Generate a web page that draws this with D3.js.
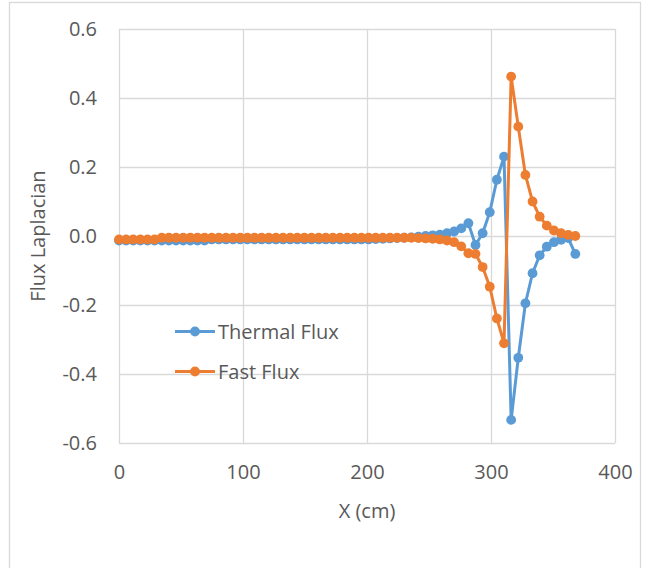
<!DOCTYPE html>
<html>
<head>
<meta charset="utf-8">
<script src="https://cdn.jsdelivr.net/npm/d3@7"></script>
<style>
  html, body { margin: 0; padding: 0; background: #fff; }
  svg { display: block; }
  text { font-family: "Open Sans", "Liberation Sans", sans-serif; fill: #595959; }
</style>
</head>
<body>
<svg id="chart" width="647" height="568"></svg>
<script>
const xValues = [0,5.75,11.5,17.25,23,28.75,34.5,40.25,46,51.75,57.5,63.25,69,74.75,80.5,86.25,92,97.75,103.5,109.25,115,120.75,126.5,132.25,138,143.75,149.5,155.25,161,166.75,172.5,178.25,184,189.75,195.5,201.25,207,212.75,218.5,224.25,230,235.75,241.5,247.25,253,258.75,264.5,270.25,276,281.75,287.5,293.25,299,304.75,310.5,316.25,322,327.75,333.5,339.25,345,350.75,356.5,362.25,368];

const thermalFlux = [-0.013,-0.013,-0.013,-0.013,-0.013,-0.013,-0.013,-0.013,-0.013,-0.013,-0.013,-0.013,-0.013,
  -0.010,-0.010,-0.010,-0.010,-0.010,-0.010,-0.010,-0.010,-0.010,-0.010,-0.010,-0.010,-0.010,-0.010,-0.010,-0.010,-0.010,-0.010,-0.010,-0.010,-0.010,-0.010,-0.010,
  -0.009,-0.008,-0.007,-0.006,-0.005,-0.004,-0.002,0.000,0.002,0.004,0.008,0.013,0.022,0.037,-0.026,0.008,0.069,0.163,0.230,
  -0.533,-0.353,-0.195,-0.108,-0.056,-0.031,-0.018,-0.011,-0.006,-0.052];

const fastFlux = [-0.010,-0.010,-0.010,-0.010,-0.010,-0.010,
  -0.005,-0.005,-0.005,-0.005,-0.005,-0.005,-0.005,-0.005,-0.005,-0.005,-0.005,-0.005,-0.005,-0.005,-0.005,-0.005,-0.005,-0.005,-0.005,-0.005,-0.005,-0.005,-0.005,-0.005,-0.005,-0.005,-0.005,-0.005,-0.005,-0.005,-0.005,-0.005,-0.005,-0.005,-0.005,-0.005,
  -0.006,-0.007,-0.008,-0.010,-0.013,-0.018,-0.030,-0.050,-0.052,-0.090,-0.147,-0.239,-0.311,
  0.462,0.317,0.177,0.100,0.056,0.030,0.016,0.008,0.003,0.000];

const seriesNames = ["Thermal Flux", "Fast Flux"];
const seriesColors = ["#5B9BD5", "#ED7D31"];
const xTicks = [0, 100, 200, 300, 400];
const yTicks = [-0.6, -0.4, -0.2, 0.0, 0.2, 0.4, 0.6];
const yTickLabels = ["-0.6", "-0.4", "-0.2", "0.0", "0.2", "0.4", "0.6"];

const svg = d3.select("#chart");

// chart area border
svg.append("rect")
  .attr("x", 9.5).attr("y", 2.5)
  .attr("width", 631).attr("height", 620)
  .attr("fill", "none").attr("stroke", "#d9d9d9").attr("stroke-width", 1.3);

const plot = { left: 119, right: 615, top: 29, bottom: 443 };

const x = d3.scaleLinear().domain([0, 400]).range([plot.left, plot.right]);
const y = d3.scaleLinear().domain([-0.6, 0.6]).range([plot.bottom, plot.top]);

// gridlines
const grid = svg.append("g");
grid.selectAll("line.h").data(yTicks).enter().append("line")
  .attr("x1", plot.left).attr("x2", plot.right)
  .attr("y1", d => Math.round(y(d)) + 0.5).attr("y2", d => Math.round(y(d)) + 0.5)
  .attr("stroke", "#d9d9d9").attr("stroke-width", 1.3);
grid.selectAll("line.v").data(xTicks).enter().append("line")
  .attr("y1", plot.top).attr("y2", plot.bottom)
  .attr("x1", d => Math.round(x(d)) + 0.5).attr("x2", d => Math.round(x(d)) + 0.5)
  .attr("stroke", "#d9d9d9").attr("stroke-width", 1.3);

// axes (labels only)
const yAxis = d3.axisLeft(y).tickValues(yTicks)
  .tickFormat((d, i) => yTickLabels[i]).tickSize(0).tickPadding(22);
const gy = svg.append("g").attr("transform", `translate(${plot.left},0)`).call(yAxis);
gy.select(".domain").remove();
gy.selectAll("text").attr("font-size", 20).style("font-family", '"Open Sans", sans-serif').attr("fill", "#595959");

const xAxis = d3.axisBottom(x).tickValues(xTicks).tickFormat(d3.format("d")).tickSize(0).tickPadding(22);
const gx = svg.append("g").attr("transform", `translate(0,${plot.bottom})`).call(xAxis);
gx.select(".domain").remove();
gx.selectAll("text").attr("font-size", 20).style("font-family", '"Open Sans", sans-serif').attr("fill", "#595959");

// axis titles
svg.append("text")
  .attr("x", (plot.left + plot.right) / 2).attr("y", 518)
  .attr("text-anchor", "middle").attr("font-size", 20)
  .text("X (cm)");
svg.append("text")
  .attr("transform", `translate(45,${(plot.top + plot.bottom) / 2}) rotate(-90)`)
  .attr("text-anchor", "middle").attr("font-size", 20)
  .text("Flux Laplacian");

// series
const allSeries = [thermalFlux, fastFlux];
const line = d3.line().x((d, i) => x(xValues[i])).y(d => y(d));

allSeries.forEach((vals, s) => {
  const g = svg.append("g");
  g.append("path")
    .datum(vals)
    .attr("d", line)
    .attr("fill", "none")
    .attr("stroke", seriesColors[s])
    .attr("stroke-width", 3)
    .attr("stroke-linejoin", "round");
  g.selectAll("circle").data(vals).enter().append("circle")
    .attr("cx", (d, i) => x(xValues[i]))
    .attr("cy", d => y(d))
    .attr("r", 4.9)
    .attr("fill", seriesColors[s]);
});

// legend
const legend = svg.append("g");
const legendY = [331.5, 371.5];
seriesNames.forEach((name, i) => {
  legend.append("line")
    .attr("x1", 175).attr("x2", 215)
    .attr("y1", legendY[i]).attr("y2", legendY[i])
    .attr("stroke", seriesColors[i]).attr("stroke-width", 3);
  legend.append("circle")
    .attr("cx", 195).attr("cy", legendY[i]).attr("r", 4.9)
    .attr("fill", seriesColors[i]);
  legend.append("text")
    .attr("x", 218).attr("y", legendY[i] + 7)
    .attr("font-size", 20)
    .text(name);
});
</script>
</body>
</html>
